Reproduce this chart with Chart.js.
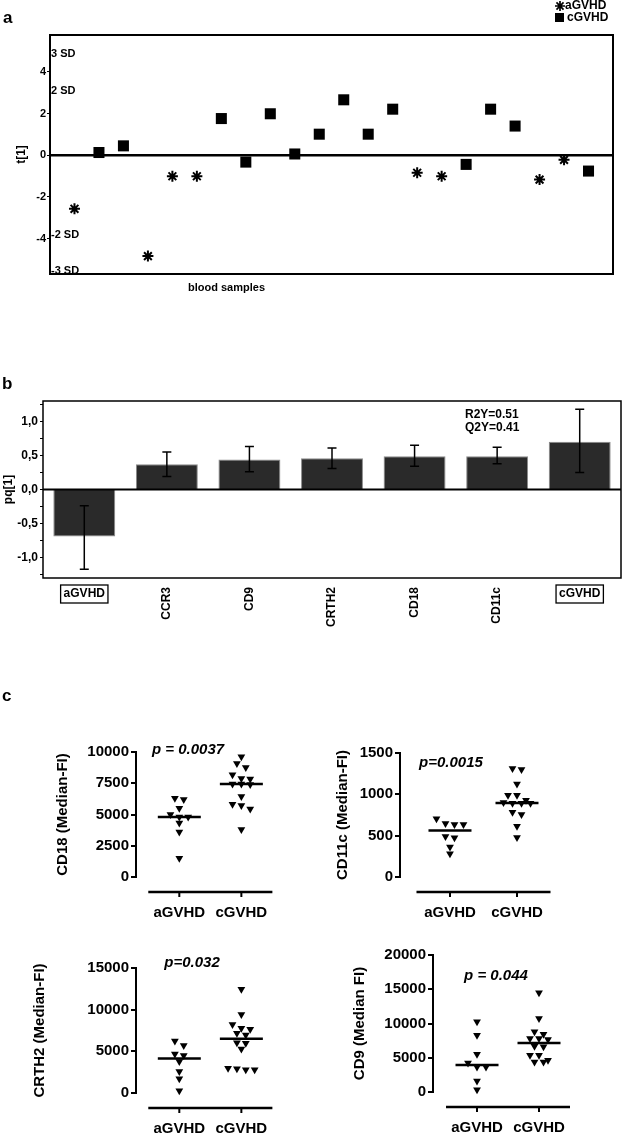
<!DOCTYPE html>
<html><head><meta charset="utf-8">
<script src="https://cdn.jsdelivr.net/npm/chart.js@4.4.1/dist/chart.umd.min.js"></script>
<style>
html,body{margin:0;padding:0;background:#fff}
body{width:623px;height:1135px;position:relative;overflow:hidden;font-family:"Liberation Sans",Arial,sans-serif;color:#000}
canvas{position:absolute}
.t{position:absolute;white-space:nowrap;line-height:1}
.b{font-weight:bold}
.p{font-weight:bold;font-style:italic;font-size:15px;transform:translateX(-50%)}
</style></head><body>
<canvas id="ca" width="623" height="300" style="left:0px;top:0px"></canvas>
<canvas id="cb" width="623" height="270" style="left:0px;top:380px"></canvas>
<canvas id="c1" width="300" height="190" style="left:0px;top:730px"></canvas>
<canvas id="c2" width="323" height="190" style="left:300px;top:730px"></canvas>
<canvas id="c3" width="300" height="190" style="left:0px;top:945px"></canvas>
<canvas id="c4" width="323" height="200" style="left:300px;top:935px"></canvas>

<div class="t b" style="left:3px;top:9px;font-size:17px">a</div>
<div class="t b" style="left:2px;top:375px;font-size:17px">b</div>
<div class="t b" style="left:2px;top:687px;font-size:17px">c</div>
<div class="t b" style="left:188px;top:282px;font-size:11px">blood samples</div>
<div class="t b" style="left:465px;top:408px;font-size:12px">R2Y=0.51</div>
<div class="t b" style="left:465px;top:421px;font-size:12px">Q2Y=0.41</div>
<div class="t p" style="left:188px;top:741px">p = 0.0037</div>
<div class="t p" style="left:451px;top:754px">p=0.0015</div>
<div class="t p" style="left:192px;top:954px">p=0.032</div>
<div class="t p" style="left:496px;top:967px">p = 0.044</div>

<script>
// ---------- Panel a: score plot ----------
const sampleIndex = [1,2,3,4,5,6,7,8,9,10,11,12,13,14,15,16,17,18,19,20,21,22];
const sampleGroup = ['aGVHD','cGVHD','cGVHD','aGVHD','aGVHD','aGVHD','cGVHD','cGVHD','cGVHD','cGVHD','cGVHD',
                     'cGVHD','cGVHD','cGVHD','aGVHD','aGVHD','cGVHD','cGVHD','cGVHD','aGVHD','aGVHD','cGVHD'];
const scoreT1 = [-2.57,0.13,0.45,-4.84,-1.01,-1.01,1.76,-0.33,1.99,0.06,1.01,2.66,1.01,2.21,-0.84,-1.01,-0.44,2.21,1.40,-1.17,-0.22,-0.76];
const scoreTicks = [-4,-2,0,2,4];
const sdLevels = [4.86,3.09,-3.85,-5.57];
const sdLabels = ['3 SD','2 SD','-2 SD','-3 SD'];
const legendNames = ['aGVHD','cGVHD'];

// ---------- Panel b: loadings ----------
const loadingVars = ['aGVHD','CCR3','CD9','CRTH2','CD18','CD11c','cGVHD'];
const loadingPq   = [-0.69,0.37,0.44,0.46,0.49,0.49,0.70];
const loadingLow  = [-1.17,0.19,0.26,0.31,0.34,0.38,0.25];
const loadingHigh = [-0.24,0.55,0.63,0.61,0.65,0.62,1.18];
const boxedVars = ['aGVHD','cGVHD'];
const pqTickValues = [-1.25,-1,-0.75,-0.5,-0.25,0,0.25,0.5,0.75,1,1.25];
const pqTickLabels = ['','-1,0','','-0,5','','0,0','','0,5','','1,0',''];

// ---------- Panel c: dot plots ----------
const groupNames = ['aGVHD','cGVHD'];
const cd18A  = [6300,6200,5510,5000,4800,4800,4330,3610,1500];
const cd18C  = [9630,9080,8760,8180,7890,7840,7450,7450,7400,6440,5830,5720,5450,3800];
const cd18Ticks = [0,2500,5000,7500,10000];
const cd11cA = [705,646,634,634,489,474,364,282];
const cd11cC = [1312,1300,1124,990,990,928,900,893,893,893,783,756,615,478];
const cd11cTicks = [0,500,1000,1500];
const crth2A = [6245,5690,4690,4490,3780,2585,1710,280];
const crth2C = [12450,9430,8230,7760,7640,7160,6960,6040,5970,5290,2980,2900,2780,2780];
const crth2Ticks = [0,5000,10000,15000];
const cd9A   = [10240,8290,5510,4240,3660,3660,1610,340];
const cd9C   = [14490,10730,8780,8440,7800,7800,7660,6680,6590,5370,5370,4630,4390,4390];
const cd9Ticks = [0,5000,10000,15000,20000];

const FONT = "'Liberation Sans', Arial, sans-serif";
Chart.defaults.font.family = FONT;
Chart.defaults.color = '#000';
Chart.defaults.animation = false;

// ---- Panel a chart ----
const ptsA = [], ptsC = [];
sampleIndex.forEach((s,i)=>{ (sampleGroup[i]==='aGVHD'?ptsA:ptsC).push({x:s,y:scoreT1[i]}); });

function drawStar(ctx,x,y,r){
  ctx.beginPath();
  for(let k=0;k<4;k++){const a=k*Math.PI/4;ctx.moveTo(x-Math.cos(a)*r,y-Math.sin(a)*r);ctx.lineTo(x+Math.cos(a)*r,y+Math.sin(a)*r);}
  ctx.stroke();
}

const scorePlugin = {
  id:'scoreDeco',
  afterDatasetsDraw(chart){
    const {ctx, chartArea:a, scales:{y}} = chart;
    ctx.save();
    ctx.strokeStyle='#000';
    ctx.lineWidth=2;
    ctx.strokeRect(a.left,a.top,a.right-a.left,a.bottom-a.top);
    const y0=y.getPixelForValue(0);
    ctx.lineWidth=2.5;
    ctx.beginPath();ctx.moveTo(a.left,y0);ctx.lineTo(a.right,y0);ctx.stroke();
    ctx.fillStyle='#000';
    ctx.font='bold 11px '+FONT;
    ctx.textBaseline='middle';ctx.textAlign='left';
    sdLevels.forEach((v,i)=>ctx.fillText(sdLabels[i], a.left+1, y.getPixelForValue(v)));
    ctx.font='bold 12px '+FONT;
    ctx.lineWidth=1.7;
    drawStar(ctx,560,6,5);
    ctx.fillText(legendNames[0],565,6);
    ctx.fillRect(555,13,9,9);
    ctx.fillText(legendNames[1],567,18);
    ctx.restore();
  }
};

new Chart(document.getElementById('ca'),{
  type:'scatter',
  data:{datasets:[
    {label:legendNames[0],data:ptsA,pointStyle:'star',pointRadius:5.5,borderWidth:2,borderColor:'#000',backgroundColor:'#000',clip:false},
    {label:legendNames[1],data:ptsC,pointStyle:'rect',pointRadius:7.8,borderWidth:0,borderColor:'#000',backgroundColor:'#000',clip:false}
  ]},
  options:{
    responsive:false,animation:false,events:[],
    layout:{padding:{top:35,right:10,bottom:26,left:14}},
    plugins:{legend:{display:false},tooltip:{enabled:false}},
    scales:{
      x:{type:'linear',min:0,max:23,display:false},
      y:{min:-5.7,max:5.77,
         afterFit(s){s.width=36;},
         afterBuildTicks(s){s.ticks=scoreTicks.map(v=>({value:v}));},
         ticks:{font:{size:11,weight:'bold'},padding:1,color:'#000',callback:v=>String(v)},
         grid:{drawOnChartArea:false,tickLength:3,color:'#000',lineWidth:1},
         border:{display:false},
         title:{display:true,text:'t[1]',font:{size:12,weight:'bold'},padding:{top:0,bottom:0},color:'#000'}}
    }
  },
  plugins:[scorePlugin]
});

// ---- Panel b chart ----
const loadPlugin = {
  id:'loadDeco',
  afterDatasetsDraw(chart){
    const {ctx, chartArea:a, scales:{x,y}} = chart;
    ctx.save();
    ctx.strokeStyle='#000';
    ctx.lineWidth=1.5;
    loadingVars.forEach((c,i)=>{
      const px=x.getPixelForValue(i), yl=y.getPixelForValue(loadingLow[i]), yh=y.getPixelForValue(loadingHigh[i]);
      ctx.beginPath();
      ctx.moveTo(px,yl);ctx.lineTo(px,yh);
      ctx.moveTo(px-4.5,yl);ctx.lineTo(px+4.5,yl);
      ctx.moveTo(px-4.5,yh);ctx.lineTo(px+4.5,yh);
      ctx.stroke();
    });
    ctx.lineWidth=1.5;
    ctx.strokeRect(a.left,a.top,a.right-a.left,a.bottom-a.top);
    const y0=y.getPixelForValue(0);
    ctx.lineWidth=2;
    ctx.beginPath();ctx.moveTo(a.left,y0);ctx.lineTo(a.right,y0);ctx.stroke();
    ctx.fillStyle='#000';
    ctx.font='bold 12px '+FONT;
    loadingVars.forEach((c,i)=>{
      const px=x.getPixelForValue(i);
      if(boxedVars.includes(c)){
        const w=ctx.measureText(c).width+6;
        ctx.textAlign='center';ctx.textBaseline='middle';
        ctx.fillText(c,px,a.bottom+16);
        ctx.lineWidth=1.3;
        ctx.strokeRect(px-w/2,a.bottom+7,w,18);
      }else{
        ctx.save();
        ctx.translate(px,a.bottom+9);
        ctx.rotate(-Math.PI/2);
        ctx.textAlign='right';ctx.textBaseline='middle';
        ctx.fillText(c,0,0);
        ctx.restore();
      }
    });
    ctx.restore();
  }
};

new Chart(document.getElementById('cb'),{
  type:'bar',
  data:{labels:loadingVars,datasets:[{data:loadingPq,backgroundColor:'#2a2a2a',borderColor:'#8a8a8a',borderWidth:1,barPercentage:0.75,categoryPercentage:1}]},
  options:{
    responsive:false,animation:false,events:[],
    layout:{padding:{top:21,right:2,bottom:72,left:1}},
    plugins:{legend:{display:false},tooltip:{enabled:false}},
    scales:{
      x:{display:false},
      y:{min:-1.3,max:1.3,
         afterFit(s){s.width=42;},
         afterBuildTicks(s){s.ticks=pqTickValues.map(v=>({value:v}));},
         ticks:{font:{size:12,weight:'bold'},padding:2,color:'#000',autoSkip:false,
                callback:(v,i)=>pqTickLabels[i]},
         grid:{drawOnChartArea:false,tickLength:3,color:'#000',lineWidth:1},
         border:{display:false},
         title:{display:true,text:'pq[1]',font:{size:12,weight:'bold'},padding:{top:0,bottom:0},color:'#000'}}
    }
  },
  plugins:[loadPlugin]
});

// ---- Panel c dot plots ----
function swarmOffsets(vals, yMax, axisPx, rowPx, stepPx){
  const order = vals.map((v,i)=>i).sort((p,q)=>vals[q]-vals[p]);
  const off = new Array(vals.length).fill(0);
  let g=[];
  const flush=()=>{g.forEach((j,k)=>off[j]=(k-(g.length-1)/2)*stepPx);};
  order.forEach(j=>{
    if(g.length && (vals[g[0]]-vals[j])/yMax*axisPx>rowPx){flush();g=[];}
    g.push(j);
  });
  flush();
  return off;
}
function median(v){const s=[...v].sort((a,b)=>a-b);const n=s.length;return n%2?s[(n-1)/2]:(s[n/2-1]+s[n/2])/2;}

const dotPlugin = {
  id:'dotDeco',
  afterDatasetsDraw(chart){
    const {ctx, chartArea:a, scales:{x,y}} = chart;
    ctx.save();
    ctx.strokeStyle='#000';
    ctx.lineWidth=2.5;
    chart.data.datasets.forEach((ds,i)=>{
      const m=median(ds.raw), cx=x.getPixelForValue(i+1), py=y.getPixelForValue(m);
      ctx.beginPath();ctx.moveTo(cx-21.5,py);ctx.lineTo(cx+21.5,py);ctx.stroke();
    });
    const ly=a.bottom+15;
    ctx.lineWidth=2.5;
    ctx.beginPath();ctx.moveTo(x.getPixelForValue(0.5),ly);ctx.lineTo(x.getPixelForValue(2.5),ly);ctx.stroke();
    ctx.lineWidth=2;
    [1,2].forEach(v=>{const px=x.getPixelForValue(v);ctx.beginPath();ctx.moveTo(px,ly);ctx.lineTo(px,ly+5);ctx.stroke();});
    ctx.restore();
  }
};

function makeDot(id, title, valsA, valsC, ticks, L){
  const yMax = ticks[ticks.length-1];
  const mk=(vals,center)=>{const off=swarmOffsets(vals,yMax,L.axisPx,6,9);return vals.map((v,i)=>({x:center+off[i]/L.pxu,y:v}));};
  const style={pointStyle:'triangle',rotation:180,pointRadius:4.5,backgroundColor:'#000',borderColor:'#000',borderWidth:0,clip:false};
  new Chart(document.getElementById(id),{
    type:'scatter',
    data:{datasets:[
      Object.assign({label:groupNames[0],data:mk(valsA,1),raw:valsA},style),
      Object.assign({label:groupNames[1],data:mk(valsC,2),raw:valsC},style)
    ]},
    options:{
      responsive:false,animation:false,events:[],
      layout:{padding:{top:L.padT,right:L.padR,bottom:L.padB,left:L.padL}},
      plugins:{legend:{display:false},tooltip:{enabled:false}},
      scales:{
        x:{type:'linear',min:L.xMin,max:2.5,
           afterFit(s){s.height=40;},
           afterBuildTicks(s){s.ticks=[{value:1},{value:2}];},
           ticks:{font:{size:15,weight:'bold'},padding:27,maxRotation:0,autoSkip:false,color:'#000',callback:v=>groupNames[Math.round(v)-1]},
           grid:{display:false,drawTicks:false},border:{display:false}},
        y:{min:0,max:yMax,
           afterFit(s){s.width=L.yW;},
           afterBuildTicks(s){s.ticks=ticks.map(v=>({value:v}));},
           ticks:{font:{size:15,weight:'bold'},padding:2,color:'#000',callback:v=>String(v)},
           grid:{drawOnChartArea:false,tickLength:5,lineWidth:2,color:'#000'},
           border:{display:true,width:2,color:'#000'},
           title:{display:true,text:title,font:{size:15,weight:'bold'},color:'#000'}}
      }
    },
    plugins:[dotPlugin]
  });
}

makeDot('c1','CD18 (Median-FI)',cd18A,cd18C,cd18Ticks,{padL:50,yW:86,padT:22,padR:25.5,padB:3,xMin:0.302,pxu:63,axisPx:125});
makeDot('c2','CD11c (Median-FI)',cd11cA,cd11cC,cd11cTicks,{padL:30,yW:70,padT:23,padR:72.5,padB:3,xMin:0.254,pxu:67,axisPx:125});
makeDot('c3','CRTH2 (Median-FI)',crth2A,crth2C,crth2Ticks,{padL:27,yW:109,padT:23,padR:25.5,padB:2,xMin:0.302,pxu:63,axisPx:125});
makeDot('c4','CD9 (Median FI)',cd9A,cd9C,cd9Ticks,{padL:47,yW:86,padT:20,padR:53,padB:3,xMin:0.29,pxu:62,axisPx:137});
</script>
</body></html>
